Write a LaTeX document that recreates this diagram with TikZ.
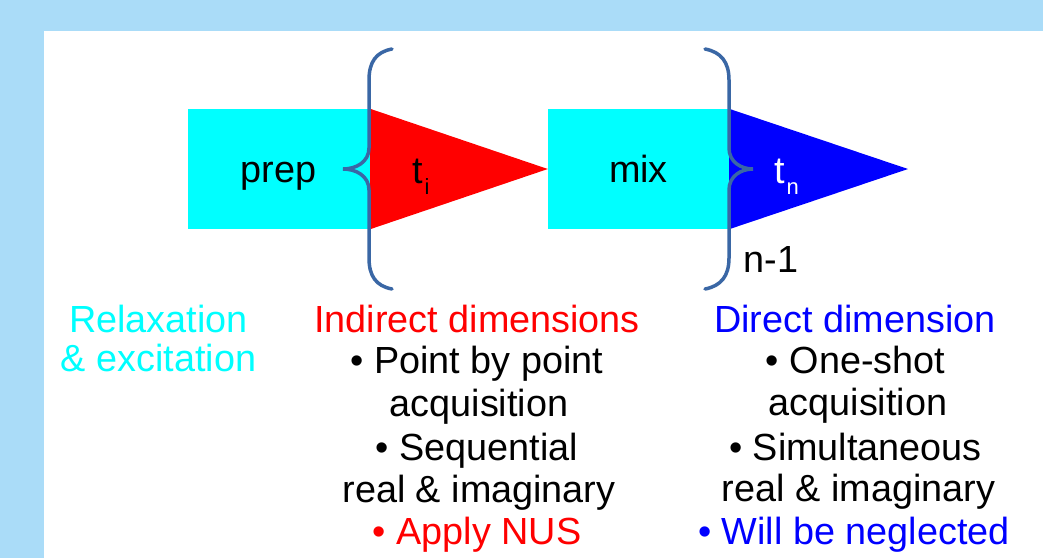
\documentclass[tikz,border=0pt]{standalone}
\usepackage{fontspec}
\setmainfont{Liberation Sans}
\definecolor{bgblue}{HTML}{AADCF8}
\definecolor{bracec}{HTML}{3A67A5}
\definecolor{cyanc}{HTML}{00FFFF}
\definecolor{redc}{HTML}{FF0000}
\definecolor{bluec}{HTML}{0000FF}
\tikzset{
  txt/.style={font=\fontsize{37.8}{44}\selectfont, anchor=base, inner sep=0pt},
  boxc/.style={fill=cyanc, draw=none, minimum height=120pt, inner sep=0pt},
  bracestyle/.style={draw=bracec, line width=3.5pt, line cap=round}
}
\begin{document}
\begin{tikzpicture}[x=1pt,y=1pt]
\useasboundingbox (0,0) rectangle (1043,-558);
\fill[bgblue] (0,0) rectangle (1043,-558);
\fill[white] (44,-31) rectangle (1043,-558);

% boxes
\node[boxc, minimum width=182pt] (prep) at (279,-169) {};
\node[boxc, minimum width=181pt] (mix) at (638.5,-169) {};
\coordinate (tipn) at (908,-169);

% triangles
\fill[redc] (prep.north east) -- (mix.west) -- (prep.south east) -- cycle;
\fill[bluec] (mix.north east) -- (tipn) -- (mix.south east) -- cycle;

% braces
\draw[bracestyle] (392,-49) .. controls (376,-52) and (369,-62) .. (369,-80)
  -- (369,-148) .. controls (369,-162) and (356,-169) .. (343,-169)
  .. controls (356,-169) and (369,-176) .. (369,-190)
  -- (369,-258) .. controls (369,-276) and (376,-286) .. (392,-289);
\draw[bracestyle] (705,-49) .. controls (721,-52) and (729,-62) .. (729,-80)
  -- (729,-148) .. controls (729,-162) and (741,-169) .. (753,-169)
  .. controls (741,-169) and (729,-176) .. (729,-190)
  -- (729,-258) .. controls (729,-276) and (721,-286) .. (705,-289);

% labels in the sequence
\node[txt] (preplbl) at (278.5,-182) {prep};
\node[txt] (mixlbl) at (638.5,-182) {mix};
\node[txt, anchor=base west] (ti) at (412.5,-183) {t\kern1.5pt\raisebox{-11pt}{\fontsize{22}{22}\selectfont i}};
\node[txt, anchor=base west, text=white] (tn) at (774.5,-183) {t\kern1.5pt\raisebox{-11pt}{\fontsize{22}{22}\selectfont n}};
\node[txt] (nm1) at (771,-272) {n-1};

% left column
\node[txt, text=cyanc] (r1) at (158.5,-332) {Relaxation};
\node[txt, text=cyanc] (r2) at (158.5,-371) {\& excitation};

% middle column
\node[txt, text=redc] (m1) at (477,-332) {Indirect dimensions};
\node[txt] (m2) at (477,-373) {• Point by point};
\node[txt] (m3) at (479,-416) {acquisition};
\node[txt] (m4) at (477,-460) {• Sequential};
\node[txt] (m5) at (479,-502) {real \& imaginary};
\node[txt, text=redc] (m6) at (477,-544) {• Apply NUS};

% right column
\node[txt, text=bluec] (d1) at (855,-332) {Direct dimension};
\node[txt] (d2) at (855.5,-373) {• One-shot};
\node[txt] (d3) at (858,-415) {acquisition};
\node[txt] (d4) at (855.5,-460) {• Simultaneous};
\node[txt] (d5) at (858.5,-501) {real \& imaginary};
\node[txt, text=bluec] (d6) at (854,-544) {• Will be neglected};
\end{tikzpicture}
\end{document}
